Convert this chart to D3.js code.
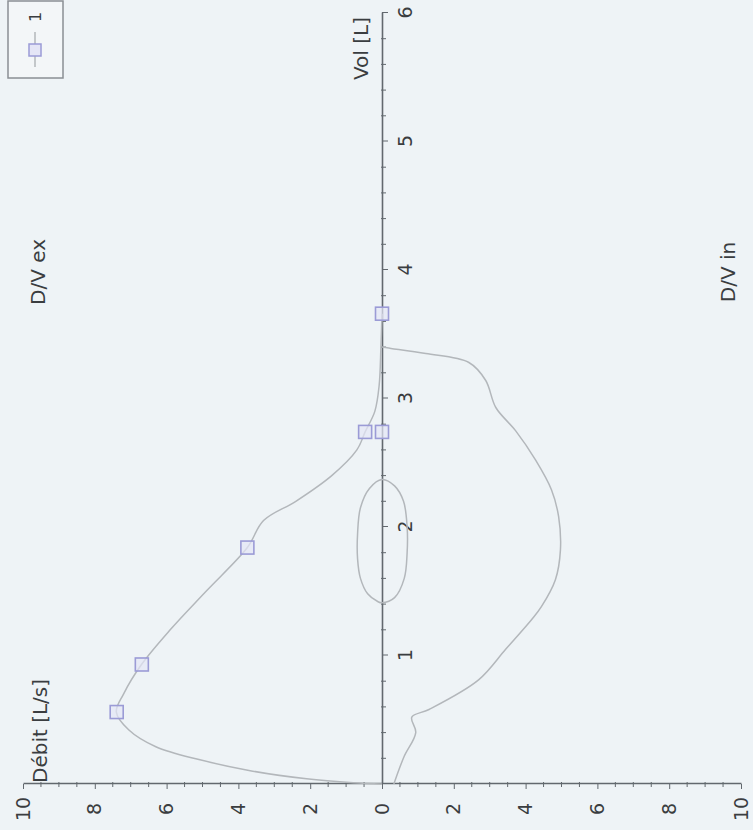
<!DOCTYPE html>
<html>
<head>
<meta charset="utf-8">
<script src="https://cdn.jsdelivr.net/npm/d3@7"></script>
<style>
  html, body { margin: 0; padding: 0; background: #eef3f6; }
  svg { display: block; }
  text { font-family: "DejaVu Sans", Verdana, sans-serif; fill: #3a3d40; }
</style>
</head>
<body>
<div id="chart"></div>
<script>
// Flow-volume loop (spirometry), drawn on its side.
// Volume [L] and flow [L/s] readings.
const expVol  = [0, 0.01, 0.04, 0.10, 0.19, 0.29, 0.42, 0.56, 0.70, 0.93, 1.20, 1.50, 1.84, 2.05, 2.20, 2.40, 2.60, 2.74, 2.90, 3.10, 3.40, 3.66];
const expFlow = [0, 0.8, 2.1, 3.6, 5.1, 6.3, 7.05, 7.4, 7.2, 6.7, 5.9, 4.9, 3.75, 3.3, 2.4, 1.4, 0.7, 0.47, 0.2, 0.08, 0.03, 0];

const insVol  = [3.40, 3.39, 3.35, 3.28, 3.14, 2.93, 2.75, 2.52, 2.29, 2.08, 1.82, 1.59, 1.38, 1.28, 1.05, 0.81, 0.58, 0.52, 0.40, 0.21, 0.00];
const insFlow = [0, -0.25, -1.22, -2.42, -2.89, -3.17, -3.72, -4.28, -4.72, -4.92, -4.97, -4.83, -4.44, -4.17, -3.45, -2.69, -1.31, -0.83, -0.94, -0.61, -0.33];

const tidalVol  = [2.37, 2.30, 2.15, 1.95, 1.75, 1.60, 1.48, 1.42, 1.41, 1.45, 1.60, 1.80, 2.00, 2.20, 2.32];
const tidalFlow = [0, 0.35, 0.60, 0.68, 0.68, 0.60, 0.40, 0.12, 0, -0.35, -0.62, -0.70, -0.70, -0.60, -0.35];

// Marked samples of series "1"
const markVol  = [0.56, 0.93, 1.84, 2.74, 2.74, 3.66];
const markFlow = [7.39, 6.69, 3.75, 0.47, 0.0, 0.0];

const volTicks  = [0, 1, 2, 3, 4, 5, 6];
const flowTicks = [10, 8, 6, 4, 2, 0, -2, -4, -6, -8, -10];
const seriesName = "1";

const W = 753, H = 830;
const svg = d3.select("#chart").append("svg").attr("width", W).attr("height", H);
svg.append("rect").attr("width", W).attr("height", H).attr("fill", "#eef3f6");

// The plot is laid out in its own frame (volume along, flow across)
// and then turned a quarter turn counter-clockwise onto the page.
const g = svg.append("g").attr("transform", `translate(0,${H}) rotate(-90)`);

const vol  = d3.scaleLinear().domain([0, 6]).range([46, 817]);
const flow = d3.scaleLinear().domain([10, -10]).range([23, 741]);

const axisColor = "#62686e";
const curveColor = "#b3b7bb";

// Flow axis at volume 0
const flowAxis = g.append("g").attr("transform", `translate(${vol(0)},0)`)
  .call(d3.axisLeft(flow).tickValues(flowTicks).tickSize(5).tickSizeOuter(0)
        .tickFormat(d => String(Math.abs(d))));
flowAxis.selectAll("text").attr("x", -25).attr("text-anchor", "middle")
  .style("font-size", "19px").style("fill", "#3a3d40");
// minor ticks
flowAxis.selectAll(".minor").data(d3.range(-10, 10.01, 0.5).filter(d => Math.abs(d % 2) > 0.01))
  .join("line").attr("class", "minor")
  .attr("x1", -3).attr("x2", 2).attr("y1", d => flow(d)).attr("y2", d => flow(d))
  .attr("stroke", axisColor);

// Volume axis at flow 0
const volAxis = g.append("g").attr("transform", `translate(0,${flow(0)})`)
  .call(d3.axisBottom(vol).tickValues(volTicks).tickSize(6).tickSizeOuter(0).tickPadding(11)
        .tickFormat(d3.format("d")));
volAxis.selectAll("text").style("font-size", "19px").style("fill", "#3a3d40");
volAxis.select(".tick text").remove(); // zero is labelled on the flow axis
volAxis.selectAll(".minor").data(d3.range(0, 6.001, 0.2).filter(d => Math.abs(d - Math.round(d)) > 0.01))
  .join("line").attr("class", "minor")
  .attr("x1", d => vol(d)).attr("x2", d => vol(d)).attr("y1", -1).attr("y2", 4)
  .attr("stroke", axisColor);

[flowAxis, volAxis].forEach(a => {
  a.selectAll(".domain").attr("stroke", axisColor).attr("stroke-width", 1.6);
  a.selectAll(".tick line").attr("stroke", axisColor);
});

// Curves
const line = d3.line().x(d => vol(d[0])).y(d => flow(d[1])).curve(d3.curveCatmullRom.alpha(0.5));
const zipped = (a, b) => a.map((v, i) => [v, b[i]]);

g.append("path").attr("d", line(zipped(expVol, expFlow)))
  .attr("fill", "none").attr("stroke", curveColor).attr("stroke-width", 1.5);
g.append("path").attr("d", line(zipped(insVol, insFlow)))
  .attr("fill", "none").attr("stroke", curveColor).attr("stroke-width", 1.5);
g.append("path")
  .attr("d", d3.line().x(d => vol(d[0])).y(d => flow(d[1])).curve(d3.curveCatmullRomClosed.alpha(0.5))(zipped(tidalVol, tidalFlow)))
  .attr("fill", "none").attr("stroke", curveColor).attr("stroke-width", 1.5);

// Markers
const ms = 13;
g.selectAll(".mark").data(zipped(markVol, markFlow)).join("rect").attr("class", "mark")
  .attr("x", d => vol(d[0]) - ms / 2).attr("y", d => flow(d[1]) - ms / 2)
  .attr("width", ms).attr("height", ms)
  .attr("fill", "#e4e5f6").attr("fill-opacity", 0.7)
  .attr("stroke", "#9b9bd6").attr("stroke-width", 1.6);

// Axis titles and region labels
const label = (txt, u, v, anchor) => g.append("text").text(txt)
  .attr("x", u).attr("y", v).attr("text-anchor", anchor)
  .attr("dominant-baseline", "central").style("font-size", "20px");
label("Vol [L]", 813, 361, "end");
label("Débit [L/s]", 47, 40, "start");
label("D/V ex", 558, 38, "middle");
label("D/V in", 558, 728, "middle");

// Legend
const lg = g.append("g");
lg.append("rect").attr("x", 752).attr("y", 8).attr("width", 77).attr("height", 55)
  .attr("fill", "#f3f6f8").attr("stroke", "#8a8f94").attr("stroke-width", 1.5);
lg.append("line").attr("x1", 763).attr("x2", 798).attr("y1", 35).attr("y2", 35)
  .attr("stroke", curveColor).attr("stroke-width", 1.5);
lg.append("rect").attr("x", 780 - 6).attr("y", 35 - 6).attr("width", 12).attr("height", 12)
  .attr("fill", "#e4e5f6").attr("stroke", "#9b9bd6").attr("stroke-width", 1.5);
lg.append("text").text(seriesName).attr("x", 808).attr("y", 35)
  .attr("dominant-baseline", "central").style("font-size", "16px");
</script>
</body>
</html>
